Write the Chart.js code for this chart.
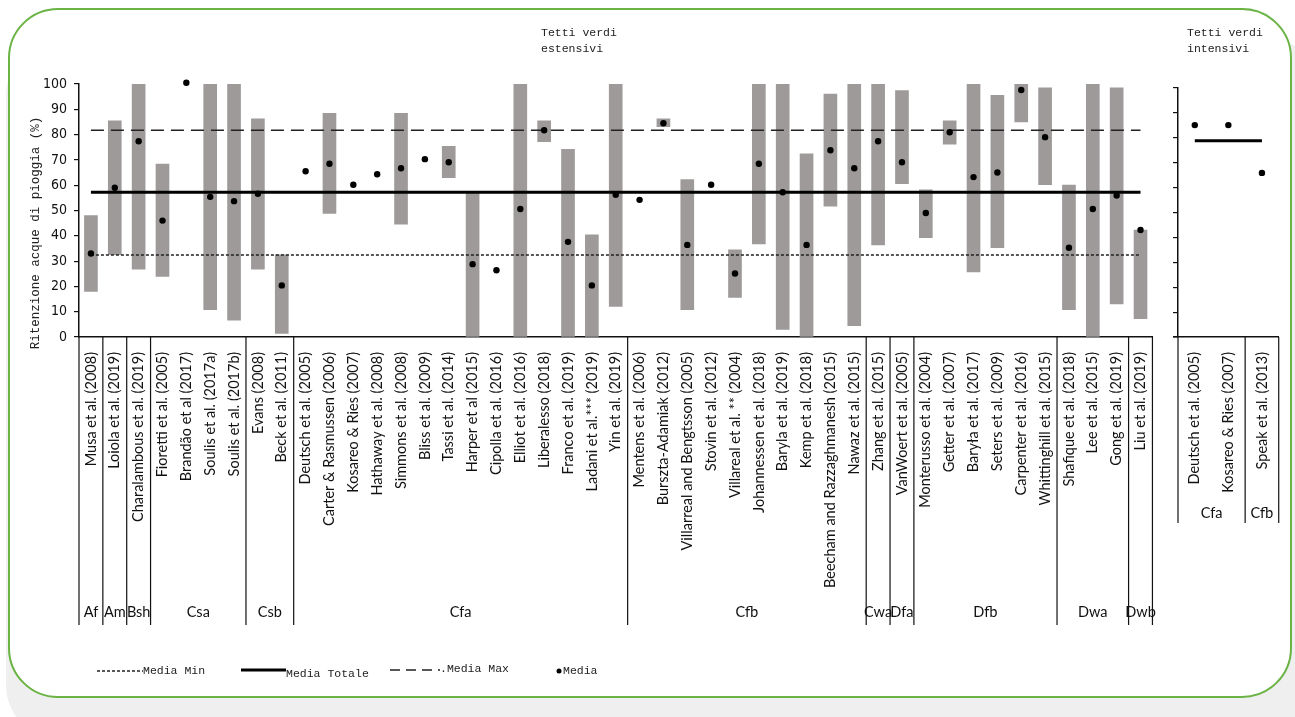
<!DOCTYPE html>
<html><head><meta charset="utf-8">
<script src="https://cdn.jsdelivr.net/npm/chart.js@4"></script>
<style>
html,body{margin:0;padding:0;width:1295px;height:717px;overflow:hidden;background:#fff;}
#bg{position:absolute;left:6px;top:40px;width:1320px;height:700px;background:#efefef;border-radius:55px;}
#card{position:absolute;left:8px;top:8px;width:1280px;height:686px;border:2.5px solid #6ab344;border-radius:50px;background:#fff;}
canvas{position:absolute;top:0;}
.mono{font-family:"Liberation Mono",monospace;font-size:11.5px;color:#222;position:absolute;line-height:16px;white-space:nowrap;}
#ytitle{left:36px;top:233px;transform:translate(-50%,-50%) rotate(-90deg);font-size:12.5px;}
</style>
</head><body>
<div id="bg"></div>
<div id="card"></div>
<canvas id="main" width="1173" height="640" style="left:0"></canvas>
<canvas id="right" width="196" height="640" style="left:1100px"></canvas>
<div class="mono" style="left:541px;top:25px">Tetti verdi<br>estensivi</div>
<div class="mono" style="left:1187px;top:25px">Tetti verdi<br>intensivi</div>
<div class="mono" id="ytitle">Ritenzione acque di pioggia (%)</div>
<svg style="position:absolute;left:0;top:0" width="1295" height="717">
  <line x1="97" y1="671" x2="143" y2="671" stroke="#222" stroke-width="1.5" stroke-dasharray="3,2"/>
  <line x1="241" y1="670" x2="286" y2="670" stroke="#000" stroke-width="3"/>
  <line x1="390" y1="670" x2="440" y2="670" stroke="#222" stroke-width="1.5" stroke-dasharray="10,6"/>
  <circle cx="559" cy="671" r="2.5" fill="#000"/>
</svg>
<div class="mono" style="left:143px;top:663px">Media Min</div>
<div class="mono" style="left:286px;top:666px">Media Totale</div>
<div class="mono" style="left:440px;top:661px">.Media Max</div>
<div class="mono" style="left:563px;top:663px">Media</div>
<script>
// ---- Data ----
const studies = ["Musa et al. (2008)","Loiola et al. (2019)","Charalambous et al. (2019)","Fioretti et al. (2005)","Brandão et al (2017)","Soulis et al. (2017a)","Soulis et al. (2017b)","Evans (2008)","Beck et al. (2011)","Deutsch et al. (2005)","Carter & Rasmussen (2006)","Kosareo & Ries (2007)","Hathaway et al. (2008)","Simmons et al. (2008)","Bliss et al. (2009)","Tassi et al. (2014)","Harper et al (2015)","Cipolla et al. (2016)","Elliot et al. (2016)","Liberalesso (2018)","Franco et al. (2019)","Ladani et al.*** (2019)","Yin et al. (2019)","Mentens et al. (2006)","Burszta-Adamiak (2012)","Villarreal and Bengtsson (2005)","Stovin et al. (2012)","Villareal et al. ** (2004)","Johannessen et al. (2018)","Baryla et al. (2019)","Kemp et al. (2018)","Beecham and Razzaghmanesh (2015)","Nawaz et al. (2015)","Zhang et al. (2015)","VanWoert et al. (2005)","Monterusso et al. (2004)","Getter et al. (2007)","Baryła et al. (2017)","Seters et al. (2009)","Carpenter et al. (2016)","Whittinghill et al. (2015)","Shafique et al. (2018)","Lee et al. (2015)","Gong et al. (2019)","Liu et al. (2019)"];
const climates = ["Af","Am","Bsh","Csa","Csb","Cfa","Cfb","Cwa","Dfa","Dfb","Dwa","Dwb"];
const climateSizes = [1,1,1,4,2,14,10,1,1,6,3,1];
const rangeMin = [18,32.5,26.8,23.9,null,10.8,6.7,26.8,1.4,null,48.8,null,null,44.6,null,63,0,null,0,77.2,0,0,12.1,null,83.1,10.8,null,15.6,36.8,3,0,51.7,4.5,36.4,60.6,39.3,76.2,25.7,35.3,85,60.2,10.8,0,13.1,7.2];
const rangeMax = [48,85.4,100,68.3,null,100,100,86.2,32.5,null,88.4,null,null,88.4,null,75.4,56.8,null,100,85.4,74.2,40.4,100,null,86.2,62.2,null,34.5,100,100,72.4,96,100,100,97.4,58.2,85.4,100,95.5,100,98.5,60,100,98.5,42.3];
const media = [33,59,77.4,46,100.5,55.4,53.7,56.6,20.4,65.5,68.5,60.2,64.3,66.7,70.3,69.1,28.8,26.4,50.6,81.7,37.6,20.4,56.2,54.2,84.5,36.4,60.2,25.1,68.5,57.2,36.4,73.8,66.7,77.4,69.1,49,80.9,63.2,65,97.6,79,35.3,50.6,55.9,42.3];
const mediaMin = 32.4, mediaTotale = 57.2, mediaMax = 81.7;
const yTicks = [0,10,20,30,40,50,60,70,80,90,100];

const intStudies = ["Deutsch et al. (2005)","Kosareo & Ries (2007)","Speak et al. (2013)"];
const intClimates = ["Cfa","Cfb"];
const intClimateSizes = [2,1];
const intMedia = [85.1,85.1,65.9];
const intMediaTotale = 78.8;

// ---- Helpers ----
const TICK_FONT = {family:"Lato, 'Open Sans', sans-serif", size:14.5};
const groupPlugin = {
  id:'groups',
  afterDraw(chart, args, o){
    const xs = chart.scales.x, ctx = chart.ctx;
    const n = xs.getLabels().length;
    const w = n>1 ? xs.getPixelForValue(1)-xs.getPixelForValue(0) : xs.width;
    const y0 = chart.chartArea.bottom;
    ctx.save();
    ctx.strokeStyle = '#111'; ctx.lineWidth = 1.2;
    ctx.fillStyle = '#111'; ctx.font = "14.5px " + TICK_FONT.family;
    ctx.textAlign = 'center'; ctx.textBaseline = 'middle';
    let idx = 0;
    const bx = i => xs.getPixelForValue(0) - w/2 + i*w;
    ctx.beginPath(); ctx.moveTo(bx(0), y0); ctx.lineTo(bx(0), o.bottom); ctx.stroke();
    o.names.forEach((nm, g) => {
      const s = idx, e = idx + o.sizes[g];
      ctx.beginPath(); ctx.moveTo(bx(e), y0); ctx.lineTo(bx(e), o.bottom); ctx.stroke();
      ctx.fillText(nm, (bx(s)+bx(e))/2, o.labelY);
      idx = e;
    });
    if (o.extend) { ctx.beginPath(); ctx.moveTo(chart.chartArea.left - o.extend, y0); ctx.lineTo(chart.chartArea.left, y0); ctx.stroke(); }
    ctx.restore();
  }
};

function refLine(labels, v){ return [{x:labels[0], y:v},{x:labels[labels.length-1], y:v}]; }

// ---- Main chart ----
new Chart(document.getElementById('main'), {
  type:'bar',
  data:{
    labels: studies,
    datasets:[
      {type:'line', label:'Media', data: media, showLine:false, pointRadius:3.2, pointBackgroundColor:'#000', pointBorderWidth:0, clip:false, order:0},
      {type:'line', label:'Media Totale', data: refLine(studies, mediaTotale), borderColor:'#000', borderWidth:3, pointRadius:0, order:1},
      {type:'line', label:'Media Max', data: refLine(studies, mediaMax), borderColor:'#222', borderWidth:1.6, borderDash:[13,7], pointRadius:0, order:2},
      {type:'line', label:'Media Min', data: refLine(studies, mediaMin), borderColor:'#222', borderWidth:1.6, borderDash:[3,2], pointRadius:0, order:3},
      {type:'bar', label:'Range', data: rangeMin.map((m,i)=> m===null ? null : [m, rangeMax[i]]), backgroundColor:'#9e9a9a', barThickness:13, borderWidth:0, order:4}
    ]
  },
  options:{
    responsive:false, animation:false, devicePixelRatio:1,
    layout:{padding:{top:84, right:8, left:0, bottom:0}},
    plugins:{legend:{display:false}, tooltip:{enabled:false},
      groups:{names:climates, sizes:climateSizes, bottom:625, labelY:612}},
    scales:{
      x:{offset:true, grid:{display:false, drawTicks:false},
         border:{display:true, color:'#111', width:1.5},
         ticks:{autoSkip:false, minRotation:90, maxRotation:90, padding:15, color:'#111', font:TICK_FONT},
         afterFit(s){ s.height = 640-337; }},
      y:{min:0, max:100, afterBuildTicks(s){ s.ticks = yTicks.map(v=>({value:v})); },
         grid:{drawOnChartArea:false, drawTicks:true, tickLength:5, color:'#111', lineWidth:1.2},
         border:{display:true, color:'#111', width:1.5},
         ticks:{padding:7, color:'#111', font:{family:"'Liberation Sans Narrow', 'DejaVu Sans Condensed', sans-serif", size:14}},
         afterFit(s){ s.width = 79; }}
    }
  },
  plugins:[groupPlugin]
});

// ---- Right chart (intensive) ----
new Chart(document.getElementById('right'), {
  type:'line',
  data:{
    labels: intStudies,
    datasets:[
      {label:'Media', data:intMedia, showLine:false, pointRadius:3.2, pointBackgroundColor:'#000', pointBorderWidth:0, order:0},
      {label:'Media Totale', data: refLine(intStudies, intMediaTotale), borderColor:'#000', borderWidth:3, pointRadius:0, order:1}
    ]
  },
  options:{
    responsive:false, animation:false, devicePixelRatio:1,
    layout:{padding:{top:88, right:10, left:0, bottom:0}},
    plugins:{legend:{display:false}, tooltip:{enabled:false},
      groups:{names:intClimates, sizes:intClimateSizes, bottom:523, labelY:513, extend:5}},
    scales:{
      x:{offset:true, grid:{display:false, drawTicks:false},
         border:{display:true, color:'#111', width:1.5},
         ticks:{autoSkip:false, minRotation:90, maxRotation:90, padding:15, color:'#111', font:TICK_FONT},
         afterFit(s){ s.height = 640-337; }},
      y:{min:0, max:100, afterBuildTicks(s){ s.ticks = yTicks.map(v=>({value:v})); },
         grid:{drawOnChartArea:false, drawTicks:true, tickLength:5, color:'#111', lineWidth:1.2},
         border:{display:true, color:'#111', width:1.5},
         ticks:{color:'rgba(0,0,0,0)'},
         afterFit(s){ s.width = 78; }}
    }
  },
  plugins:[groupPlugin]
});
</script>
</body></html>
